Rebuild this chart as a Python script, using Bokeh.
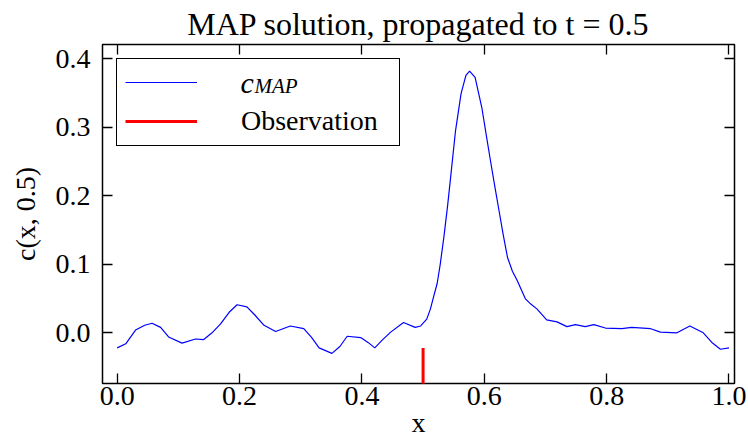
from bokeh.plotting import figure
from bokeh.models import (Range1d, FixedTicker, PrintfTickFormatter, LinearAxis,
                          Legend, LegendItem, Label, ColumnDataSource)
from bokeh.embed import file_html
from bokeh.resources import INLINE

# ---- data ----
x_vals = [0.000, 0.014, 0.030, 0.045, 0.057, 0.071, 0.084, 0.106, 0.128, 0.141,
          0.155, 0.169, 0.183, 0.196, 0.212, 0.225, 0.240, 0.259, 0.283, 0.305,
          0.318, 0.330, 0.351, 0.364, 0.376, 0.398, 0.410, 0.421, 0.434, 0.447,
          0.468, 0.487, 0.496, 0.506, 0.512, 0.517, 0.523, 0.528, 0.534, 0.540,
          0.545, 0.553, 0.562, 0.570, 0.576, 0.585, 0.596, 0.603, 0.610, 0.617,
          0.624, 0.631, 0.638, 0.646, 0.654, 0.667, 0.676, 0.686, 0.702, 0.719,
          0.735, 0.749, 0.765, 0.779, 0.798, 0.825, 0.841, 0.872, 0.888, 0.915,
          0.936, 0.958, 0.972, 0.986, 1.000]
c_map = [-0.022, -0.016, 0.004, 0.011, 0.014, 0.008, -0.006, -0.015, -0.009, -0.010,
         0.000, 0.013, 0.030, 0.041, 0.038, 0.026, 0.011, 0.002, 0.010, 0.006,
         -0.007, -0.022, -0.030, -0.020, -0.005, -0.007, -0.014, -0.022, -0.010, 0.001,
         0.015, 0.008, 0.010, 0.020, 0.035, 0.052, 0.072, 0.100, 0.140, 0.185,
         0.227, 0.295, 0.349, 0.376, 0.382, 0.373, 0.329, 0.290, 0.252, 0.215,
         0.179, 0.143, 0.110, 0.090, 0.076, 0.050, 0.042, 0.035, 0.019, 0.016,
         0.009, 0.012, 0.009, 0.012, 0.007, 0.006, 0.008, 0.006, 0.001, 0.000,
         0.010, 0.000, -0.014, -0.024, -0.022]

obs_x = [0.5]
obs_y_bottom = [-0.08]
obs_y_top = [-0.022]

x_ticks = [0.0, 0.2, 0.4, 0.6, 0.8, 1.0]
y_ticks = [0.0, 0.1, 0.2, 0.3, 0.4]

FONT = "Liberation Serif"

p = figure(width=748, height=440, output_backend="svg", toolbar_location=None,
           x_range=Range1d(-0.024, 1.009), y_range=Range1d(-0.074, 0.421),
           min_border_left=102, min_border_right=14, min_border_top=44,
           min_border_bottom=57, x_axis_location=None, y_axis_location=None)
p.grid.visible = False
p.outline_line_color = "black"
p.outline_line_alpha = 1.0
p.outline_line_width = 1.5
p.background_fill_color = "white"
p.border_fill_color = "white"

p.title.text = "MAP solution, propagated to t = 0.5"
p.title.align = "center"
p.title.text_font = FONT
p.title.text_font_size = "32px"
p.title.text_font_style = "normal"
p.title.text_color = "black"
p.title.standoff = 5

def make_axis(ticks, show_labels, label=None):
    ax = LinearAxis(ticker=FixedTicker(ticks=ticks),
                    formatter=PrintfTickFormatter(format="%.1f"))
    ax.axis_line_color = None
    ax.major_tick_in = 10
    ax.major_tick_out = 0
    ax.major_tick_line_width = 1.3
    ax.major_tick_line_color = "black"
    ax.minor_tick_line_color = None
    ax.major_label_text_font = FONT
    if show_labels:
        ax.major_label_text_font_size = "28px"
        ax.major_label_text_color = "black"
    else:
        ax.major_label_text_font_size = "2px"
        ax.major_label_text_color = None
        ax.major_label_standoff = 0
    if label:
        ax.axis_label = label
        ax.axis_label_text_font = FONT
        ax.axis_label_text_font_size = "28px"
        ax.axis_label_text_font_style = "normal"
        ax.axis_label_text_color = "black"
    return ax

xb = make_axis(x_ticks, True, "x")
xb.major_label_standoff = 3
xb.axis_label_standoff = -1
yl = make_axis(y_ticks, True, "c(x, 0.5)")
yl.major_label_standoff = 12
yl.axis_label_standoff = 12
p.add_layout(xb, "below")
p.add_layout(yl, "left")
p.add_layout(make_axis(x_ticks, False), "above")
p.add_layout(make_axis(y_ticks, False), "right")

src = ColumnDataSource(dict(x=x_vals, y=c_map))
line_r = p.line("x", "y", source=src, line_color="#0000ff", line_width=1.2)
obs_r = p.segment(x0=obs_x, y0=obs_y_bottom, x1=obs_x, y1=obs_y_top,
                  line_color="#ff0000", line_width=3)

legend = Legend(items=[LegendItem(label=" ", renderers=[line_r]),
                       LegendItem(label="Observation", renderers=[obs_r])],
                location="top_left")
legend.margin = 14
legend.padding = 8
legend.spacing = 8
legend.glyph_width = 72
legend.glyph_height = 30
legend.label_height = 30
legend.label_standoff = 44
legend.label_width = 150
legend.label_text_font = FONT
legend.label_text_font_size = "28px"
legend.label_text_color = "black"
legend.border_line_color = "black"
legend.border_line_alpha = 1.0
legend.border_line_width = 1.5
legend.background_fill_alpha = 0.0
p.add_layout(legend, "center")

# subscripted legend label c_MAP, placed at the first legend entry
lab_c = Label(x=0.2016, y=0.3656, text="c",
              text_font=FONT, text_font_style="italic", text_font_size="30px",
              text_color="black", text_baseline="alphabetic", text_align="left")
lab_map = Label(x=0.2244, y=0.3597, text="MAP",
                text_font=FONT, text_font_style="italic", text_font_size="21px",
                text_color="black", text_baseline="alphabetic", text_align="left")
p.add_layout(lab_c)
p.add_layout(lab_map)

open("out.html", "w").write(file_html(p, INLINE))
